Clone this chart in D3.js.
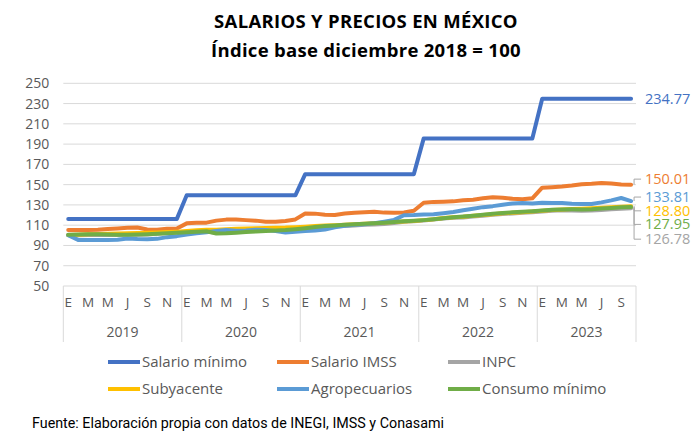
<!DOCTYPE html>
<html>
<head>
<meta charset="utf-8">
<script src="https://cdn.jsdelivr.net/npm/d3@7"></script>
<style>
  body { margin: 0; background: #fff; }
  svg { display: block; font-family: "Open Sans", sans-serif; }
  .axis text { fill: #595959; }
  .grid line { stroke: #d9d9d9; stroke-width: 1; }
</style>
</head>
<body>
<div id="chart"></div>
<script>
// --- DATOS ---
const years = [2019, 2020, 2021, 2022, 2023];
const monthsPerYear = [12, 12, 12, 12, 10];
const monthInitials = ["E", "F", "M", "A", "M", "J", "J", "A", "S", "O", "N", "D"];
const yTicks = [50, 70, 90, 110, 130, 150, 170, 190, 210, 230, 250];

const seriesNames = ["Salario mínimo", "Salario IMSS", "INPC", "Subyacente", "Agropecuarios", "Consumo mínimo"];
const seriesColors = ["#4472C4", "#ED7D31", "#A5A5A5", "#FFC000", "#5B9BD5", "#70AD47"];

const salarioMinimo = [
  116.21, 116.21, 116.21, 116.21, 116.21, 116.21, 116.21, 116.21, 116.21, 116.21, 116.21, 116.21,
  139.45, 139.45, 139.45, 139.45, 139.45, 139.45, 139.45, 139.45, 139.45, 139.45, 139.45, 139.45,
  160.37, 160.37, 160.37, 160.37, 160.37, 160.37, 160.37, 160.37, 160.37, 160.37, 160.37, 160.37,
  195.64, 195.64, 195.64, 195.64, 195.64, 195.64, 195.64, 195.64, 195.64, 195.64, 195.64, 195.64,
  234.77, 234.77, 234.77, 234.77, 234.77, 234.77, 234.77, 234.77, 234.77, 234.77
];
const salarioIMSS = [
  105.2, 105.2, 105.2, 105.5, 106.2, 106.8, 107.5, 107.8, 105.8, 105.5, 106.5, 106.8,
  111.8, 112.3, 112.5, 114.5, 115.5, 115.7, 115.0, 114.5, 113.5, 113.3, 114.2, 115.7,
  121.6, 121.4, 120.3, 120.0, 121.5, 122.3, 122.8, 123.2, 122.4, 122.2, 122.5, 124.3,
  132.2, 133.0, 133.2, 133.5, 134.5, 135.2, 136.5, 137.5, 137.0, 136.0, 135.5, 136.5,
  147.0, 147.5, 148.2, 149.2, 150.5, 150.8, 151.6, 151.2, 150.2, 150.01
];
const inpc = [
  100.09, 100.06, 100.44, 100.50, 100.21, 100.27, 100.65, 100.63, 100.90, 101.44, 102.26, 102.83,
  103.33, 103.76, 103.71, 102.65, 103.05, 103.61, 104.30, 104.71, 104.95, 105.59, 105.67, 106.07,
  106.98, 107.66, 108.55, 108.90, 109.12, 109.71, 110.35, 110.56, 111.24, 112.17, 113.46, 113.87,
  114.54, 115.49, 116.64, 117.27, 117.48, 118.47, 119.34, 120.18, 120.92, 121.60, 122.30, 122.77,
  123.60, 124.29, 124.63, 124.60, 124.33, 124.46, 125.06, 125.75, 126.31, 126.78
];
const subyacente = [
  100.3, 100.6, 101.0, 101.3, 101.5, 101.8, 102.1, 102.3, 102.6, 102.9, 103.2, 103.6,
  104.2, 104.9, 105.4, 105.6, 106.0, 106.5, 106.8, 107.1, 107.3, 107.5, 107.6, 108.0,
  108.5, 109.1, 109.6, 110.0, 110.4, 111.0, 111.5, 112.0, 112.6, 113.2, 113.6, 114.2,
  115.0, 115.8, 117.0, 117.8, 118.4, 119.3, 120.1, 120.9, 121.7, 122.3, 122.8, 123.4,
  124.3, 125.0, 125.6, 125.9, 126.2, 126.6, 127.1, 127.6, 128.2, 128.80
];
const agropecuarios = [
  100.2, 95.5, 95.5, 95.5, 95.5, 95.7, 96.8, 96.3, 96.2, 96.5, 98.2, 99.2,
  100.8, 102.0, 103.0, 104.2, 105.2, 104.6, 104.8, 105.5, 105.3, 104.2, 102.8, 103.5,
  104.2, 104.8, 105.8, 108.0, 109.5, 110.5, 111.0, 112.0, 113.5, 115.2, 119.8, 120.0,
  120.5, 120.8, 121.8, 123.0, 124.8, 126.2, 127.8, 128.8, 130.2, 131.5, 131.8, 131.5,
  132.2, 132.0, 131.8, 131.2, 131.0, 131.0, 132.5, 134.5, 136.8, 133.81
];
const consumoMinimo = [
  100.5, 100.8, 101.0, 101.0, 100.8, 100.5, 100.5, 100.7, 101.0, 101.5, 102.0, 102.5,
  103.0, 103.5, 104.0, 101.8, 102.0, 102.6, 103.2, 103.8, 104.3, 104.8, 105.2, 106.0,
  107.0, 108.2, 109.2, 109.8, 110.5, 111.0, 111.5, 112.0, 112.5, 113.2, 113.8, 114.3,
  115.0, 115.8, 116.8, 117.8, 118.5, 119.3, 120.3, 121.2, 122.0, 122.7, 123.2, 123.8,
  124.6, 125.2, 125.6, 125.7, 125.6, 125.8, 126.4, 127.0, 127.6, 127.95
];
const seriesValues = [salarioMinimo, salarioIMSS, inpc, subyacente, agropecuarios, consumoMinimo];

// --- LAYOUT ---
const W = 696, H = 440;
const plot = { left: 63.3, right: 636, top: 83.3, bottom: 286 };
// desplazamiento vertical de las etiquetas finales respecto al último punto
const labelShift = [0.5, -5.5, 31, 4.7, -4, 17.4];

// lista de meses (índice, inicial, año)
const months = [];
years.forEach((yr, yi) => {
  for (let m = 0; m < monthsPerYear[yi]; m++) {
    months.push({ i: months.length, label: monthInitials[m], year: yr, m: m });
  }
});

const svg = d3.select("#chart").append("svg")
  .attr("width", W).attr("height", H);

// Título
const title = svg.append("g").attr("text-anchor", "middle")
  .style("font-weight", "700").style("fill", "#000")
  .style("font-size", "18.5px").style("letter-spacing", "0.3px");
title.append("text").attr("x", 366).attr("y", 28).text("SALARIOS Y PRECIOS EN MÉXICO");
title.append("text").attr("x", 366).attr("y", 57).text("Índice base diciembre 2018 = 100");

// Escalas
const x = d3.scaleBand().domain(months.map(d => d.i)).range([plot.left, plot.right]);
const y = d3.scaleLinear().domain([50, 250]).range([plot.bottom, plot.top]);

// Rejilla
svg.append("g").attr("class", "grid")
  .selectAll("line").data(yTicks).enter().append("line")
  .attr("x1", plot.left).attr("x2", plot.right)
  .attr("y1", d => y(d)).attr("y2", d => y(d));

// Eje Y
const yAxis = svg.append("g").attr("class", "axis")
  .attr("transform", `translate(${plot.left - 10},0)`)
  .call(d3.axisLeft(y).tickValues(yTicks).tickSize(0).tickPadding(4));
yAxis.select(".domain").remove();
yAxis.selectAll("text").style("font-size", "14px").style("font-family", "Open Sans");

// Eje X: meses
const xAxis = svg.append("g").attr("class", "axis")
  .attr("transform", `translate(0,${plot.bottom})`)
  .call(d3.axisBottom(x)
    .tickValues(months.filter(d => d.m % 2 === 0).map(d => d.i))
    .tickFormat(i => months[i].label)
    .tickSize(0).tickPadding(11));
xAxis.select(".domain").remove();
xAxis.selectAll("text").style("font-size", "13.5px").style("font-family", "Open Sans");

// Separadores de año y etiquetas
let start = 0;
const yearGroups = years.map((yr, yi) => {
  const g = { year: yr, first: start, last: start + monthsPerYear[yi] - 1 };
  start += monthsPerYear[yi];
  return g;
});
const sepX = yearGroups.map(g => x(g.first)).concat([plot.right]);
svg.append("g").selectAll("line").data(sepX).enter().append("line")
  .attr("x1", d => d).attr("x2", d => d)
  .attr("y1", plot.bottom).attr("y2", 342)
  .attr("stroke", "#d9d9d9").attr("stroke-width", 1);
svg.append("g").attr("class", "axis").selectAll("text").data(yearGroups).enter().append("text")
  .attr("x", g => (x(g.first) + x(g.last) + x.bandwidth()) / 2)
  .attr("y", 337)
  .attr("text-anchor", "middle")
  .style("font-size", "14px")
  .text(g => g.year);

// Líneas
const line = d3.line()
  .x((d, i) => x(i) + x.bandwidth() / 2)
  .y(d => y(d));
svg.append("g").selectAll("path").data(seriesValues).enter().append("path")
  .attr("d", d => line(d))
  .attr("fill", "none")
  .attr("stroke", (d, i) => seriesColors[i])
  .attr("stroke-width", 4)
  .attr("stroke-linejoin", "round")
  .attr("stroke-linecap", "round");

// Etiquetas finales con líneas guía
const lastI = months.length - 1;
const xEnd = x(lastI) + x.bandwidth() / 2;
const endLabels = seriesValues.map((vals, i) => {
  const v = vals[lastI];
  return { v: v, yData: y(v), yLabel: y(v) + labelShift[i], color: seriesColors[i] };
});
svg.append("g").selectAll("path").data(endLabels.filter(d => Math.abs(d.yLabel - d.yData) > 3))
  .enter().append("path")
  .attr("d", d => `M${xEnd + 3},${d.yData} V${d.yLabel} H${xEnd + 10}`)
  .attr("fill", "none").attr("stroke", "#a6a6a6").attr("stroke-width", 1);
svg.append("g").selectAll("text").data(endLabels).enter().append("text")
  .attr("x", 645)
  .attr("y", d => d.yLabel)
  .attr("dy", "0.35em")
  .style("font-size", "14.5px")
  .style("fill", d => d.color)
  .text(d => d.v.toFixed(2));

// Leyenda
const legendCols = [108, 277, 448];
const legendRows = [362, 389];
const legend = svg.append("g").selectAll("g").data(seriesNames).enter().append("g")
  .attr("transform", (d, i) => `translate(${legendCols[i % 3]},${legendRows[Math.floor(i / 3)]})`);
legend.append("line")
  .attr("x1", 0).attr("x2", 32).attr("y1", 0).attr("y2", 0)
  .attr("stroke", (d, i) => seriesColors[i]).attr("stroke-width", 4);
legend.append("text")
  .attr("x", 34).attr("dy", "0.35em")
  .style("font-size", "15px").style("fill", "#595959")
  .text(d => d);

// Fuente
svg.append("text")
  .attr("x", 32).attr("y", 428)
  .style("font-family", "'Liberation Sans Narrow', 'Roboto', sans-serif")
  .style("font-size", "14.3px").style("fill", "#000")
  .text("Fuente: Elaboración propia con datos de INEGI, IMSS y Conasami");
</script>
</body>
</html>
